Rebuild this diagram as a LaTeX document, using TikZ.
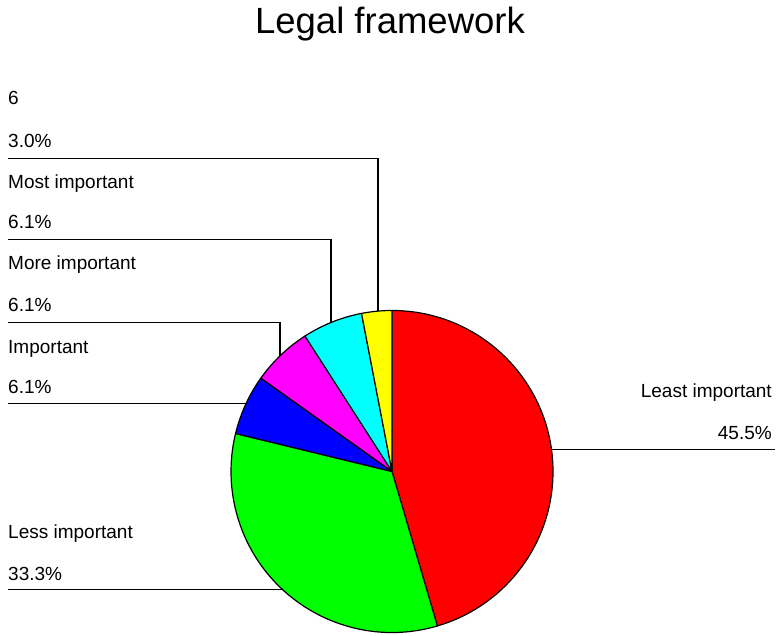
\documentclass[tikz,border=0pt]{standalone}
\usepackage{fontspec}
\setmainfont{Liberation Sans}
\usepackage{xcolor}
\usepackage{tikz}
\definecolor{SliceRed}{HTML}{FF0000}
\definecolor{SliceGreen}{HTML}{00FF00}
\definecolor{SliceBlue}{HTML}{0000FF}
\definecolor{SliceMagenta}{HTML}{FF00FF}
\definecolor{SliceCyan}{HTML}{00FFFF}
\definecolor{SliceYellow}{HTML}{FFFF00}
\tikzset{
  slice/.style={draw=black, line width=1.2pt, line join=round},
  leader/.style={draw=black, line width=1.3pt},
  lbl/.style={font=\fontsize{19}{22}\selectfont, inner sep=0pt},
  titletext/.style={font=\fontsize{36.5}{40}\selectfont, inner sep=0pt}
}

\begin{document}
\begin{tikzpicture}[x=1pt,y=1pt]
  \useasboundingbox (0,0) rectangle (782,635);
  \node[titletext, anchor=base] (title) at (390,601) {Legal framework};

  % pie
  \coordinate (c) at (392,163.5);
  \filldraw[slice, fill=SliceRed] (c) -- ++(90:161) arc[start angle=90, end angle=-73.64, radius=161] -- cycle;
  \filldraw[slice, fill=SliceGreen] (c) -- ++(-73.64:161) arc[start angle=-73.64, end angle=-193.64, radius=161] -- cycle;
  \filldraw[slice, fill=SliceBlue] (c) -- ++(-193.64:161) arc[start angle=-193.64, end angle=-215.45, radius=161] -- cycle;
  \filldraw[slice, fill=SliceMagenta] (c) -- ++(-215.45:161) arc[start angle=-215.45, end angle=-237.27, radius=161] -- cycle;
  \filldraw[slice, fill=SliceCyan] (c) -- ++(-237.27:161) arc[start angle=-237.27, end angle=-259.09, radius=161] -- cycle;
  \filldraw[slice, fill=SliceYellow] (c) -- ++(-259.09:161) arc[start angle=-259.09, end angle=-270, radius=161] -- cycle;

  % where the leaders touch the pie
  \coordinate (eYellow) at (378,323.9);
  \coordinate (eCyan) at (331,312.5);
  \coordinate (eMagenta) at (280,279.2);
  \coordinate (eBlue) at (246.2,231.7);
  \coordinate (eGreen) at (282.3,45.7);
  \coordinate (eRed) at (551.5,185.7);

  % free ends of the leaders
  \coordinate (tYellow) at (8,476.7);
  \coordinate (tCyan) at (8,395.7);
  \coordinate (tMagenta) at (8,312.7);
  \coordinate (tBlue) at (8,231.7);
  \coordinate (tGreen) at (8,45.7);
  \coordinate (tRed) at (775,185.7);

  \draw[leader] (tYellow) -| (eYellow);
  \draw[leader] (tCyan) -| (eCyan);
  \draw[leader] (tMagenta) -| (eMagenta);
  \draw[leader] (tBlue) -- (eBlue);
  \draw[leader] (tGreen) -- (eGreen);
  \draw[leader] (eRed) -- (tRed);

  % labels
  \node[lbl, anchor=base west] (nYellow) at (8,530) {6};
  \node[lbl, anchor=base west] (vYellow) at (8,487) {3.0\%};
  \node[lbl, anchor=base west] (nCyan) at (8,446) {Most important};
  \node[lbl, anchor=base west] (vCyan) at (8,406.5) {6.1\%};
  \node[lbl, anchor=base west] (nMagenta) at (8,365.5) {More important};
  \node[lbl, anchor=base west] (vMagenta) at (8,323.3) {6.1\%};
  \node[lbl, anchor=base west] (nBlue) at (8,281.7) {Important};
  \node[lbl, anchor=base west] (vBlue) at (8,241.7) {6.1\%};
  \node[lbl, anchor=base west] (nGreen) at (8,96.7) {Less important};
  \node[lbl, anchor=base west] (vGreen) at (8,55) {33.3\%};
  \node[lbl, anchor=base east] (nRed) at (772,237) {Least important};
  \node[lbl, anchor=base east] (vRed) at (772,195) {45.5\%};
\end{tikzpicture}
\end{document}
